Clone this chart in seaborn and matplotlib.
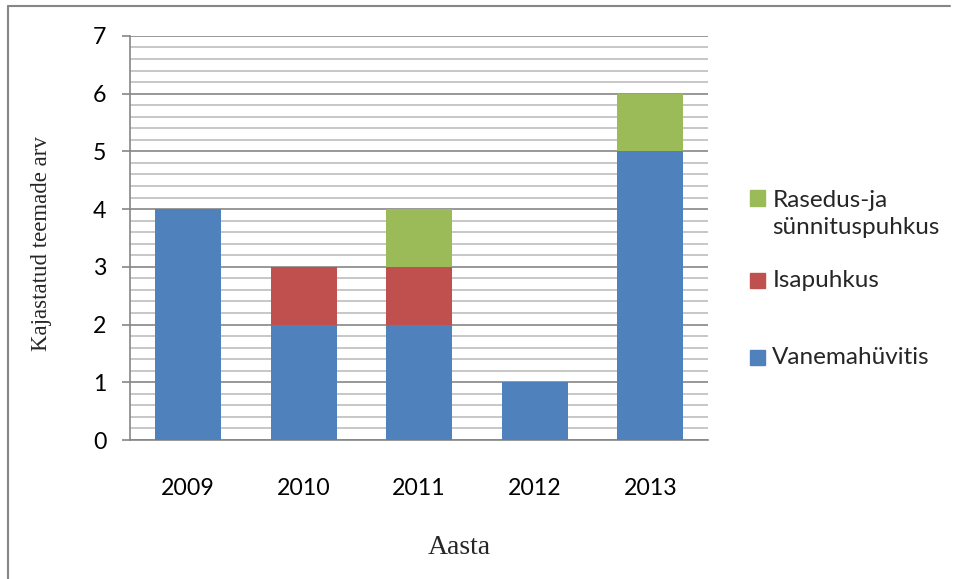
import numpy as np
import pandas as pd
import matplotlib
matplotlib.use("Agg")
import matplotlib.pyplot as plt
from matplotlib.lines import Line2D
from matplotlib.patches import Rectangle
from matplotlib.ticker import MultipleLocator
import seaborn as sns

# Andmed
years = ["2009", "2010", "2011", "2012", "2013"]
vanemahuvitis = [4, 2, 2, 1, 5]
isapuhkus = [0, 1, 1, 0, 0]
rasedus = [0, 0, 1, 0, 1]

series_names = ["Vanemahüvitis", "Isapuhkus", "Rasedus-ja\nsünnituspuhkus"]
series_colors = ["#4F81BD", "#C0504D", "#9BBB59"]

df = pd.DataFrame({
    "Aasta": years,
    "Vanemahüvitis": vanemahuvitis,
    "Isapuhkus": isapuhkus,
    "Rasedus": rasedus,
})
# kumulatiivsed summad, joonistatakse tagant ettepoole
df["c1"] = df["Vanemahüvitis"]
df["c2"] = df["c1"] + df["Isapuhkus"]
df["c3"] = df["c2"] + df["Rasedus"]

sns.set_theme(style="white")
plt.rcParams["font.family"] = ["Lato", "DejaVu Sans"]

fig = plt.figure(figsize=(9.57, 5.79), dpi=100)
ax = fig.add_axes([0.136, 0.24, 0.604, 0.698])

for col, color in zip(["c3", "c2", "c1"], series_colors[::-1]):
    sns.barplot(data=df, x="Aasta", y=col, color=color, width=0.57,
                saturation=1, ax=ax, zorder=3, linewidth=0)

ax.set_xlim(-0.5, 4.5)
ax.set_ylim(0, 7)
ax.yaxis.set_major_locator(MultipleLocator(1))
ax.yaxis.set_minor_locator(MultipleLocator(0.2))
ax.grid(which="major", axis="y", color="#868686", linewidth=1.2, zorder=0)
ax.grid(which="minor", axis="y", color="#BEBEBE", linewidth=1.2, zorder=0)
ax.set_axisbelow(True)

for side in ["top", "right"]:
    ax.spines[side].set_visible(False)
for side in ["left", "bottom"]:
    ax.spines[side].set_color("#868686")
    ax.spines[side].set_linewidth(1.2)

ax.tick_params(axis="y", which="major", left=True, length=6, width=1.2,
               color="#868686", pad=11, labelsize=16.7, labelcolor="black")
ax.tick_params(axis="y", which="minor", left=False)
ax.tick_params(axis="x", bottom=False, pad=21, labelsize=16.7, labelcolor="black")

ax.set_xlabel("")
ax.set_ylabel("")
fig.text(0.043, 0.579, "Kajastatud teemade arv", rotation=90, ha="center",
         va="center", family="Liberation Serif", fontsize=16.5)
fig.text(0.48, 0.054, "Aasta", ha="center", va="center",
         family="Liberation Serif", fontsize=20)

# legend (Excel-laadne paigutus)
legend_items = [
    (series_names[2], series_colors[2], 0.658, 0.630),
    (series_names[1], series_colors[1], 0.516, 0.516),
    (series_names[0], series_colors[0], 0.383, 0.383),
]
for label, color, ysq, ytxt in legend_items:
    fig.patches.append(Rectangle((0.784, ysq - 0.013), 0.0157, 0.026,
                                 transform=fig.transFigure, color=color))
    fig.text(0.807, ytxt, label, ha="left", va="center", fontsize=17.5,
             linespacing=1.36)

# raam ümber joonise
fig.add_artist(Line2D([0.0085, 0.0085], [0.0, 0.99], color="#868686",
                      linewidth=1.5, transform=fig.transFigure))
fig.add_artist(Line2D([0.0085, 0.993], [0.99, 0.99], color="#868686",
                      linewidth=1.5, transform=fig.transFigure))

fig.savefig("out.png", dpi=100)
